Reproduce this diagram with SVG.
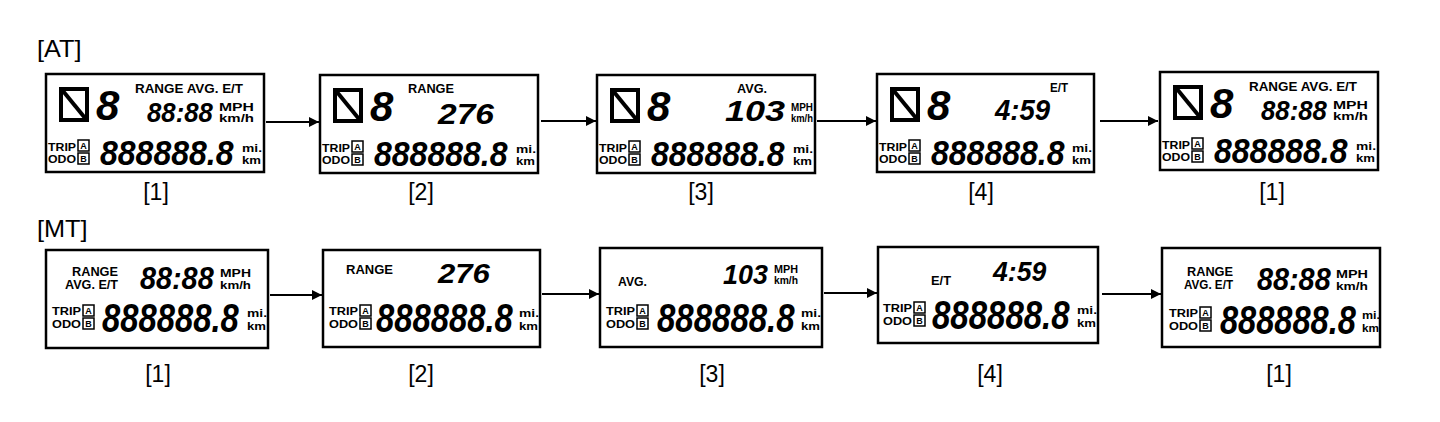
<svg xmlns="http://www.w3.org/2000/svg" width="1440" height="422" viewBox="0 0 1440 422">
<style>
.bg{fill:#fff}
.box{fill:none;stroke:#000;stroke-width:2.5}
.lbl{font-family:"Liberation Sans",Arial,sans-serif;font-size:23px;fill:#000}
.t{font-family:"Liberation Sans",Arial,sans-serif;font-weight:bold;font-size:13px;fill:#000}
.u{font-family:"Liberation Sans",Arial,sans-serif;font-weight:bold;font-size:11px;fill:#000}
.ab{font-family:"Liberation Sans",Arial,sans-serif;font-weight:bold;font-size:9px;fill:#000;text-anchor:middle}
.d{font-family:"Liberation Sans",Arial,sans-serif;font-style:italic;font-weight:bold;fill:#000}
.sq{fill:none;stroke:#000;stroke-width:1.5}
.nb{fill:none;stroke:#000;stroke-width:4}
.conn{stroke:#000;stroke-width:2;fill:none}
</style>
<defs>
<marker id="ah" markerUnits="userSpaceOnUse" markerWidth="11" markerHeight="10" refX="10" refY="5" orient="auto">
<path d="M0,0 L10,5 L0,10 z" fill="#000"/>
</marker>
<g id="gear">
<rect class="nb" x="15" y="15" width="26" height="31"/>
<line class="nb" x1="17" y1="17" x2="39" y2="44" stroke-width="3"/>
</g>
</defs>
<rect class="bg" x="0" y="0" width="1440" height="422"/>

<text class="lbl" font-size="26" transform="translate(37,57) scale(1.1,1)">[AT]</text>
<text class="lbl" font-size="26" transform="translate(37,237) scale(1.1,1)">[MT]</text>

<!-- AT row -->
<g id="at1" transform="translate(46,74)">
<rect class="box" x="0" y="0" width="218" height="98"/>
<use href="#gear"/>
<text class="d" x="50" y="46" font-size="42">8</text>
<text class="t" x="89" y="19" textLength="108" lengthAdjust="spacingAndGlyphs">RANGE AVG. E/T</text>
<text class="d" font-size="28" transform="translate(101,48) scale(0.92,1)">88:88</text>
<text class="u" x="173" y="37" textLength="35" lengthAdjust="spacingAndGlyphs">MPH</text>
<text class="u" x="173" y="48" textLength="35" lengthAdjust="spacingAndGlyphs">km/h</text>
<text class="u" x="2" y="77" textLength="28" lengthAdjust="spacingAndGlyphs">TRIP</text>
<text class="u" x="2" y="89" textLength="28" lengthAdjust="spacingAndGlyphs">ODO</text>
<rect class="sq" x="32" y="66" width="11" height="11"/><text class="ab" x="37.5" y="75">A</text>
<rect class="sq" x="32" y="79" width="11" height="11"/><text class="ab" x="37.5" y="88">B</text>
<text class="d" font-size="35" transform="translate(54,91) scale(0.915,1)">888888.8</text>
<text class="u" x="196" y="78" font-size="12" textLength="20" lengthAdjust="spacingAndGlyphs">mi.</text>
<text class="u" x="196" y="90" font-size="12" textLength="19" lengthAdjust="spacingAndGlyphs">km</text>
<text class="lbl" x="110" y="126" text-anchor="middle">[1]</text>
</g>

<g id="at2" transform="translate(320,75)">
<rect class="box" x="0" y="0" width="218" height="98"/>
<use href="#gear"/>
<text class="d" x="50" y="46" font-size="42">8</text>
<text class="t" x="88" y="18" textLength="46" lengthAdjust="spacingAndGlyphs">RANGE</text>
<text class="d" font-size="30" transform="translate(118,49) scale(1.12,1)">276</text>
<text class="u" x="2" y="77" textLength="28" lengthAdjust="spacingAndGlyphs">TRIP</text>
<text class="u" x="2" y="89" textLength="28" lengthAdjust="spacingAndGlyphs">ODO</text>
<rect class="sq" x="32" y="66" width="11" height="11"/><text class="ab" x="37.5" y="75">A</text>
<rect class="sq" x="32" y="79" width="11" height="11"/><text class="ab" x="37.5" y="88">B</text>
<text class="d" font-size="35" transform="translate(54,91) scale(0.915,1)">888888.8</text>
<text class="u" x="196" y="78" font-size="12" textLength="20" lengthAdjust="spacingAndGlyphs">mi.</text>
<text class="u" x="196" y="90" font-size="12" textLength="19" lengthAdjust="spacingAndGlyphs">km</text>
<text class="lbl" x="101" y="125" text-anchor="middle">[2]</text>
</g>

<g id="at3" transform="translate(597,75)">
<rect class="box" x="0" y="0" width="218" height="98"/>
<use href="#gear"/>
<text class="d" x="50" y="46" font-size="42">8</text>
<text class="t" x="140" y="18" textLength="30" lengthAdjust="spacingAndGlyphs">AVG.</text>
<text class="d" font-size="30" transform="translate(128,46) scale(1.2,1)">103</text>
<text class="u" x="194" y="36" font-size="10" textLength="22" lengthAdjust="spacingAndGlyphs">MPH</text>
<text class="u" x="194" y="47" font-size="10" textLength="22" lengthAdjust="spacingAndGlyphs">km/h</text>
<text class="u" x="2" y="77" textLength="28" lengthAdjust="spacingAndGlyphs">TRIP</text>
<text class="u" x="2" y="89" textLength="28" lengthAdjust="spacingAndGlyphs">ODO</text>
<rect class="sq" x="32" y="66" width="11" height="11"/><text class="ab" x="37.5" y="75">A</text>
<rect class="sq" x="32" y="79" width="11" height="11"/><text class="ab" x="37.5" y="88">B</text>
<text class="d" font-size="35" transform="translate(54,91) scale(0.915,1)">888888.8</text>
<text class="u" x="196" y="78" font-size="12" textLength="20" lengthAdjust="spacingAndGlyphs">mi.</text>
<text class="u" x="196" y="90" font-size="12" textLength="19" lengthAdjust="spacingAndGlyphs">km</text>
<text class="lbl" x="104" y="125" text-anchor="middle">[3]</text>
</g>

<g id="at4" transform="translate(877,74)">
<rect class="box" x="0" y="0" width="217" height="98"/>
<use href="#gear"/>
<text class="d" x="50" y="46" font-size="42">8</text>
<text class="t" x="173" y="18" textLength="18" lengthAdjust="spacingAndGlyphs">E/T</text>
<text class="d" font-size="30" transform="translate(118,46) scale(0.92,1)">4:59</text>
<text class="u" x="2" y="77" textLength="28" lengthAdjust="spacingAndGlyphs">TRIP</text>
<text class="u" x="2" y="89" textLength="28" lengthAdjust="spacingAndGlyphs">ODO</text>
<rect class="sq" x="32" y="66" width="11" height="11"/><text class="ab" x="37.5" y="75">A</text>
<rect class="sq" x="32" y="79" width="11" height="11"/><text class="ab" x="37.5" y="88">B</text>
<text class="d" font-size="35" transform="translate(54,91) scale(0.915,1)">888888.8</text>
<text class="u" x="195" y="78" font-size="12" textLength="20" lengthAdjust="spacingAndGlyphs">mi.</text>
<text class="u" x="195" y="90" font-size="12" textLength="19" lengthAdjust="spacingAndGlyphs">km</text>
<text class="lbl" x="104" y="126" text-anchor="middle">[4]</text>
</g>

<g id="at5" transform="translate(1160,72)">
<rect class="box" x="0" y="0" width="218" height="98"/>
<use href="#gear"/>
<text class="d" x="50" y="46" font-size="42">8</text>
<text class="t" x="89" y="19" textLength="108" lengthAdjust="spacingAndGlyphs">RANGE AVG. E/T</text>
<text class="d" font-size="28" transform="translate(101,48) scale(0.92,1)">88:88</text>
<text class="u" x="173" y="37" textLength="35" lengthAdjust="spacingAndGlyphs">MPH</text>
<text class="u" x="173" y="48" textLength="35" lengthAdjust="spacingAndGlyphs">km/h</text>
<text class="u" x="2" y="77" textLength="28" lengthAdjust="spacingAndGlyphs">TRIP</text>
<text class="u" x="2" y="89" textLength="28" lengthAdjust="spacingAndGlyphs">ODO</text>
<rect class="sq" x="32" y="66" width="11" height="11"/><text class="ab" x="37.5" y="75">A</text>
<rect class="sq" x="32" y="79" width="11" height="11"/><text class="ab" x="37.5" y="88">B</text>
<text class="d" font-size="35" transform="translate(54,91) scale(0.915,1)">888888.8</text>
<text class="u" x="196" y="78" font-size="12" textLength="20" lengthAdjust="spacingAndGlyphs">mi.</text>
<text class="u" x="196" y="90" font-size="12" textLength="19" lengthAdjust="spacingAndGlyphs">km</text>
<text class="lbl" x="112" y="128" text-anchor="middle">[1]</text>
</g>

<!-- MT row -->
<g id="mt1" transform="translate(46,250)">
<rect class="box" x="0" y="0" width="222" height="98"/>
<text class="t" x="26" y="26" font-size="11.5" textLength="46" lengthAdjust="spacingAndGlyphs">RANGE</text>
<text class="t" x="19" y="39" font-size="11.5" textLength="53" lengthAdjust="spacingAndGlyphs">AVG. E/T</text>
<text class="d" font-size="32" transform="translate(94,39) scale(0.9,1)">88:88</text>
<text class="u" x="174" y="27" textLength="31" lengthAdjust="spacingAndGlyphs">MPH</text>
<text class="u" x="174" y="39" textLength="31" lengthAdjust="spacingAndGlyphs">km/h</text>
<text class="u" x="6" y="65" textLength="29" lengthAdjust="spacingAndGlyphs">TRIP</text>
<text class="u" x="6" y="78" textLength="29" lengthAdjust="spacingAndGlyphs">ODO</text>
<rect class="sq" x="37" y="55" width="11" height="11"/><text class="ab" x="42.5" y="64">A</text>
<rect class="sq" x="37" y="68" width="11" height="11"/><text class="ab" x="42.5" y="77">B</text>
<text class="d" font-size="40" transform="translate(56,82) scale(0.82,1)">888888.8</text>
<text class="u" x="201" y="67" font-size="12" textLength="20" lengthAdjust="spacingAndGlyphs">mi.</text>
<text class="u" x="201" y="80" font-size="12" textLength="19" lengthAdjust="spacingAndGlyphs">km</text>
<text class="lbl" x="112" y="132" text-anchor="middle">[1]</text>
</g>

<g id="mt2" transform="translate(323,250)">
<rect class="box" x="0" y="0" width="217" height="97"/>
<text class="t" x="23" y="24" textLength="47" lengthAdjust="spacingAndGlyphs">RANGE</text>
<text class="d" font-size="28" transform="translate(115,33) scale(1.11,1)">276</text>
<text class="u" x="6" y="65" textLength="29" lengthAdjust="spacingAndGlyphs">TRIP</text>
<text class="u" x="6" y="78" textLength="29" lengthAdjust="spacingAndGlyphs">ODO</text>
<rect class="sq" x="37" y="55" width="11" height="11"/><text class="ab" x="42.5" y="64">A</text>
<rect class="sq" x="37" y="68" width="11" height="11"/><text class="ab" x="42.5" y="77">B</text>
<text class="d" font-size="40" transform="translate(53,82) scale(0.82,1)">888888.8</text>
<text class="u" x="196" y="67" font-size="12" textLength="20" lengthAdjust="spacingAndGlyphs">mi.</text>
<text class="u" x="196" y="80" font-size="12" textLength="19" lengthAdjust="spacingAndGlyphs">km</text>
<text class="lbl" x="98" y="132" text-anchor="middle">[2]</text>
</g>

<g id="mt3" transform="translate(600,248)">
<rect class="box" x="0" y="0" width="222" height="99"/>
<text class="t" x="18" y="38" textLength="29" lengthAdjust="spacingAndGlyphs">AVG.</text>
<text class="d" font-size="28" transform="translate(123,36) scale(0.96,1)">103</text>
<text class="u" x="174" y="25" font-size="10" textLength="24" lengthAdjust="spacingAndGlyphs">MPH</text>
<text class="u" x="174" y="36" font-size="10" textLength="24" lengthAdjust="spacingAndGlyphs">km/h</text>
<text class="u" x="6" y="67" textLength="29" lengthAdjust="spacingAndGlyphs">TRIP</text>
<text class="u" x="6" y="80" textLength="29" lengthAdjust="spacingAndGlyphs">ODO</text>
<rect class="sq" x="37" y="57" width="11" height="11"/><text class="ab" x="42.5" y="66">A</text>
<rect class="sq" x="37" y="70" width="11" height="11"/><text class="ab" x="42.5" y="79">B</text>
<text class="d" font-size="40" transform="translate(57,84) scale(0.825,1)">888888.8</text>
<text class="u" x="201" y="69" font-size="12" textLength="20" lengthAdjust="spacingAndGlyphs">mi.</text>
<text class="u" x="201" y="82" font-size="12" textLength="19" lengthAdjust="spacingAndGlyphs">km</text>
<text class="lbl" x="112" y="134" text-anchor="middle">[3]</text>
</g>

<g id="mt4" transform="translate(878,247)">
<rect class="box" x="0" y="0" width="220" height="96"/>
<text class="t" x="53" y="38" textLength="20" lengthAdjust="spacingAndGlyphs">E/T</text>
<text class="d" font-size="28" transform="translate(115,34) scale(0.95,1)">4:59</text>
<text class="u" x="5" y="65" textLength="29" lengthAdjust="spacingAndGlyphs">TRIP</text>
<text class="u" x="5" y="78" textLength="29" lengthAdjust="spacingAndGlyphs">ODO</text>
<rect class="sq" x="36" y="55" width="11" height="11"/><text class="ab" x="41.5" y="64">A</text>
<rect class="sq" x="36" y="68" width="11" height="11"/><text class="ab" x="41.5" y="77">B</text>
<text class="d" font-size="40" transform="translate(54,82) scale(0.825,1)">888888.8</text>
<text class="u" x="199" y="67" font-size="12" textLength="20" lengthAdjust="spacingAndGlyphs">mi.</text>
<text class="u" x="199" y="80" font-size="12" textLength="19" lengthAdjust="spacingAndGlyphs">km</text>
<text class="lbl" x="112" y="135" text-anchor="middle">[4]</text>
</g>

<g id="mt5" transform="translate(1162,248)">
<rect class="box" x="0" y="0" width="218" height="99"/>
<text class="t" x="25" y="28" font-size="11.5" textLength="46" lengthAdjust="spacingAndGlyphs">RANGE</text>
<text class="t" x="22" y="41" font-size="11.5" textLength="49" lengthAdjust="spacingAndGlyphs">AVG. E/T</text>
<text class="d" font-size="32" transform="translate(95,42) scale(0.9,1)">88:88</text>
<text class="u" x="174" y="30" textLength="32" lengthAdjust="spacingAndGlyphs">MPH</text>
<text class="u" x="174" y="42" textLength="32" lengthAdjust="spacingAndGlyphs">km/h</text>
<text class="u" x="7" y="69" textLength="29" lengthAdjust="spacingAndGlyphs">TRIP</text>
<text class="u" x="7" y="82" textLength="29" lengthAdjust="spacingAndGlyphs">ODO</text>
<rect class="sq" x="38" y="59" width="11" height="11"/><text class="ab" x="43.5" y="68">A</text>
<rect class="sq" x="38" y="72" width="11" height="11"/><text class="ab" x="43.5" y="81">B</text>
<text class="d" font-size="40" transform="translate(58,86) scale(0.815,1)">888888.8</text>
<text class="u" x="200" y="71" font-size="12" textLength="18" lengthAdjust="spacingAndGlyphs">mi.</text>
<text class="u" x="200" y="84" font-size="12" textLength="17" lengthAdjust="spacingAndGlyphs">km</text>
<text class="lbl" x="117" y="134" text-anchor="middle">[1]</text>
</g>

<g id="connectors">
<line class="conn" x1="266" y1="122" x2="319" y2="122" marker-end="url(#ah)"/>
<line class="conn" x1="541" y1="121" x2="596" y2="121" marker-end="url(#ah)"/>
<line class="conn" x1="817" y1="121" x2="876" y2="121" marker-end="url(#ah)"/>
<line class="conn" x1="1100" y1="121" x2="1158" y2="121" marker-end="url(#ah)"/>
<line class="conn" x1="270" y1="295" x2="322" y2="295" marker-end="url(#ah)"/>
<line class="conn" x1="542" y1="294" x2="599" y2="294" marker-end="url(#ah)"/>
<line class="conn" x1="824" y1="293" x2="877" y2="293" marker-end="url(#ah)"/>
<line class="conn" x1="1102" y1="294" x2="1161" y2="294" marker-end="url(#ah)"/>
</g>
</svg>
